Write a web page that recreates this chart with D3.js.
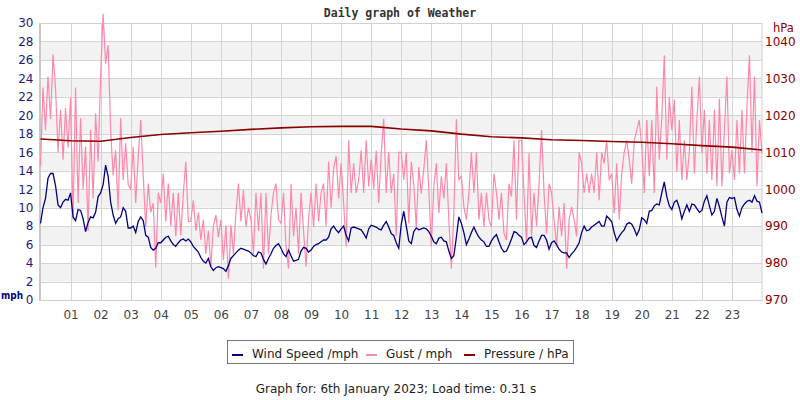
<!DOCTYPE html>
<html>
<head>
<meta charset="utf-8">
<script src="https://cdn.jsdelivr.net/npm/d3@7"></script>
<style>
  body { margin: 0; background: #fff; }
  svg { display: block; font-family: "DejaVu Sans", sans-serif; }
</style>
</head>
<body>
<script>
// Canvas and plot area
const outerWidth = 800, outerHeight = 400;
const plotLeft = 40.5, plotRight = 762, plotTop = 23, plotBottom = 300;

// Wind speed (mph), one reading every 5 minutes from 00:00 to 24:00
const windSpeed = [
  8.3, 10.0, 11.0, 13.2, 13.7, 13.7, 12.4, 10.3, 10.0, 10.6, 10.9, 10.8,
  11.6, 9.0, 8.6, 9.8, 9.7, 8.8, 7.4, 8.4, 9.0, 8.9, 9.5, 11.2,
  11.6, 12.5, 14.6, 13.4, 10.6, 9.2, 8.3, 8.8, 9.0, 10.0, 9.6, 7.8,
  7.8, 8.0, 7.3, 8.5, 9.0, 8.6, 7.0, 6.8, 5.7, 5.4, 5.6, 6.2,
  6.2, 6.5, 6.8, 6.9, 6.4, 6.0, 5.8, 6.2, 6.5, 6.6, 6.4, 6.6,
  6.3, 5.8, 5.5, 5.2, 4.6, 4.2, 4.0, 4.5, 3.6, 3.2, 3.5, 3.6,
  3.5, 3.4, 3.1, 3.7, 4.5, 4.8, 5.1, 5.4, 5.6, 5.5, 5.4, 5.3,
  5.1, 4.8, 4.7, 5.2, 5.1, 4.4, 3.9, 4.5, 5.0, 5.6, 5.9, 6.1,
  5.6, 5.0, 4.7, 5.4, 4.8, 4.2, 4.3, 4.4, 5.3, 5.7, 5.6, 5.2,
  5.4, 5.8, 6.0, 6.1, 6.3, 6.5, 6.5, 6.8, 7.7, 8.0, 7.6, 7.3,
  7.7, 8.0, 7.0, 6.4, 7.8, 7.9, 7.8, 7.7, 7.6, 7.2, 6.7, 7.7,
  8.1, 8.0, 7.9, 7.7, 7.6, 8.1, 8.5, 7.9, 7.2, 7.0, 6.2, 5.6,
  8.2, 9.6, 8.0, 6.4, 6.1, 7.4, 7.8, 7.6, 7.7, 7.8, 7.7, 7.4,
  6.9, 6.3, 6.1, 6.7, 6.8, 6.4, 6.3, 5.3, 4.5, 4.8, 6.8, 9.0,
  8.3, 7.3, 6.0, 6.6, 7.3, 7.9, 7.3, 6.8, 6.5, 6.3, 5.8, 5.8,
  6.4, 6.8, 7.1, 6.3, 5.6, 5.2, 5.3, 5.9, 6.6, 7.4, 7.3, 7.0,
  6.8, 6.0, 6.3, 6.7, 6.8, 5.9, 5.7, 6.4, 7.0, 7.0, 6.5, 5.5,
  6.2, 6.4, 6.0, 5.5, 5.2, 5.1, 5.1, 4.6, 5.0, 5.3, 5.7, 6.2,
  7.3, 8.0, 7.5, 7.6, 7.9, 8.1, 8.3, 8.5, 8.0, 8.0, 9.1, 8.8,
  8.5, 7.3, 6.4, 6.9, 7.3, 7.6, 8.2, 8.4, 8.2, 7.7, 7.0, 7.6,
  8.9, 8.7, 8.3, 9.6, 9.7, 10.2, 10.4, 10.3, 11.6, 12.8, 11.2, 10.2,
  9.8, 10.6, 10.8, 10.0, 8.8, 9.6, 10.3, 9.6, 10.4, 10.3, 9.9, 9.5,
  9.7, 10.7, 11.3, 10.2, 9.2, 9.6, 11.0, 10.1, 9.0, 8.0, 10.6, 11.1,
  11.0, 11.1, 9.8, 9.1, 10.0, 10.4, 10.7, 10.8, 10.6, 11.3, 10.7, 10.6,
  9.4
];

// Gust (mph), one reading every 5 minutes
const gust = [
  14.5, 23.0, 18.4, 24.2, 19.6, 26.6, 23.0, 16.0, 20.6, 15.2, 20.8, 16.5,
  21.9, 8.7, 23.0, 10.5, 19.7, 12.0, 16.6, 7.5, 18.4, 11.0, 20.2, 15.0,
  24.2, 31.0, 25.6, 27.6, 18.4, 13.5, 16.2, 9.7, 19.7, 13.0, 17.0, 12.5,
  12.0, 16.6, 10.5, 15.5, 19.5, 13.5, 7.9, 12.6, 9.5, 10.5, 3.5, 11.6,
  10.5, 13.7, 8.5, 12.6, 8.0, 11.6, 6.9, 11.6, 7.0, 11.5, 15.0, 8.5,
  8.5, 10.8, 7.5, 9.5, 6.5, 8.7, 5.0, 7.5, 3.6, 8.0, 9.2, 6.8,
  8.7, 4.3, 8.1, 2.3, 8.1, 5.0, 9.4, 12.6, 8.5, 11.9, 7.9, 10.0,
  8.7, 5.0, 11.6, 7.5, 11.6, 3.4, 11.6, 5.0, 9.2, 11.6, 12.6, 8.7,
  8.3, 11.6, 5.8, 3.4, 12.6, 6.9, 10.0, 5.0, 11.6, 7.5, 3.6, 8.8,
  11.6, 7.9, 12.6, 8.5, 11.6, 12.6, 8.0, 15.0, 10.0, 14.2, 15.6, 11.0,
  14.8, 10.5, 5.8, 17.3, 11.6, 14.8, 11.6, 13.0, 16.2, 11.6, 17.3, 12.3,
  15.2, 12.0, 16.2, 10.5, 15.9, 19.6, 11.6, 16.0, 11.6, 13.7, 6.9, 16.0,
  16.0, 13.0, 16.0, 8.3, 15.0, 12.5, 7.9, 14.4, 11.5, 14.2, 17.3, 12.0,
  5.8, 12.3, 14.8, 9.4, 13.4, 11.0, 14.8, 8.7, 3.4, 9.4, 19.6, 13.0,
  13.4, 10.1, 8.7, 11.6, 16.0, 11.6, 16.0, 8.7, 11.6, 7.9, 11.6, 8.7,
  7.9, 13.7, 11.6, 8.7, 11.6, 7.2, 6.5, 12.6, 11.2, 17.3, 8.7, 17.3,
  17.3, 11.6, 6.0, 15.9, 7.0, 11.6, 8.0, 12.6, 18.4, 11.6, 7.2, 12.6,
  11.6, 8.7, 5.8, 10.1, 6.9, 10.5, 3.4, 8.7, 10.1, 8.7, 6.9, 16.0,
  14.8, 11.6, 13.7, 11.6, 13.7, 11.6, 16.0, 10.8, 16.0, 14.8, 17.3, 13.0,
  13.7, 9.4, 14.8, 8.7, 13.7, 16.0, 17.3, 15.2, 12.6, 17.3, 18.4, 19.5,
  16.6, 11.6, 19.5, 13.4, 19.5, 11.6, 23.1, 15.2, 19.7, 26.5, 15.2, 22.0,
  18.4, 21.7, 13.9, 19.5, 13.0, 17.3, 13.0, 16.0, 23.1, 13.7, 19.5, 24.2,
  15.9, 20.6, 13.7, 19.5, 13.0, 20.6, 12.3, 21.8, 12.3, 18.4, 24.2, 13.7,
  16.2, 13.0, 19.5, 13.7, 20.6, 13.7, 21.0, 26.5, 16.0, 24.2, 12.3, 19.5,
  15.9
];

// Pressure (hPa), hourly
const pressure = [
  1013.6, 1013.1, 1013.0, 1014.0, 1014.8, 1015.3, 1015.7, 1016.2, 1016.6,
  1016.9, 1017.0, 1017.0, 1016.3, 1015.8, 1014.9, 1014.2, 1013.9, 1013.4,
  1013.2, 1012.9, 1012.7, 1012.3, 1011.8, 1011.4, 1010.6
];

const hourLabels = d3.range(1, 24).map(h => String(h).padStart(2, "0"));
const mphTicks = d3.range(0, 31, 2);
const hpaTicks = d3.range(970, 1041, 10);

const series = [
  { name: "Wind Speed /mph", colour: "#000080" },
  { name: "Gust / mph", colour: "#ff88aa" },
  { name: "Pressure / hPa", colour: "#8b0000" }
];

const svg = d3.select("body").append("svg")
  .attr("width", outerWidth)
  .attr("height", outerHeight);

// Scales
const x = d3.scaleLinear().domain([0, 24]).range([plotLeft, plotRight]);
const y = d3.scaleLinear().domain([0, 30]).range([plotBottom, plotTop]);
const yP = d3.scaleLinear().domain([970, 1045]).range([plotBottom, plotTop]);

// Alternating bands
svg.append("g").selectAll("rect")
  .data(d3.range(2, 30, 4))
  .enter().append("rect")
  .attr("x", plotLeft)
  .attr("width", plotRight - plotLeft)
  .attr("y", d => y(d + 2))
  .attr("height", d => y(d) - y(d + 2))
  .attr("fill", "#f2f2f2");

// Grid
svg.append("g").selectAll("line")
  .data(mphTicks)
  .enter().append("line")
  .attr("x1", plotLeft).attr("x2", plotRight)
  .attr("y1", d => Math.round(y(d)) + 0.5)
  .attr("y2", d => Math.round(y(d)) + 0.5)
  .attr("stroke", "#d4d4d4");
svg.append("g").selectAll("line")
  .data(d3.range(1, 24))
  .enter().append("line")
  .attr("x1", d => Math.round(x(d)) + 0.5)
  .attr("x2", d => Math.round(x(d)) + 0.5)
  .attr("y1", plotTop).attr("y2", plotBottom)
  .attr("stroke", "#d4d4d4");

// Frame
svg.append("rect")
  .attr("x", plotLeft).attr("y", plotTop + 0.5)
  .attr("width", plotRight - plotLeft).attr("height", plotBottom - plotTop)
  .attr("fill", "none").attr("stroke", "#d0d0d0");
svg.append("line")
  .attr("x1", plotLeft - 0.5).attr("x2", plotLeft - 0.5)
  .attr("y1", plotTop).attr("y2", plotBottom + 1)
  .attr("stroke", "#c8c8c8").attr("stroke-width", 2);

// Lines
const lineOf = (step, yScale) => d3.line()
  .x((d, i) => x(i * step))
  .y(d => yScale(d));

svg.append("path")
  .datum(gust)
  .attr("fill", "none")
  .attr("stroke", series[1].colour)
  .attr("stroke-width", 1.2)
  .attr("d", lineOf(1 / 12, y));

svg.append("path")
  .datum(pressure)
  .attr("fill", "none")
  .attr("stroke", series[2].colour)
  .attr("stroke-width", 1.6)
  .attr("d", lineOf(1, yP));

svg.append("path")
  .datum(windSpeed)
  .attr("fill", "none")
  .attr("stroke", series[0].colour)
  .attr("stroke-width", 1.3)
  .attr("d", lineOf(1 / 12, y));

// Axes
const leftAxis = svg.append("g")
  .attr("transform", `translate(${plotLeft - 7}, 0)`)
  .call(d3.axisLeft(y).tickValues(mphTicks).tickSize(0).tickPadding(0));
leftAxis.select(".domain").remove();
leftAxis.selectAll("text")
  .attr("fill", "#1a1a80")
  .style("font-size", "12px")
  .style("font-family", "DejaVu Sans");

const rightAxis = svg.append("g")
  .attr("transform", `translate(${plotRight + 3}, 0)`)
  .call(d3.axisRight(yP).tickValues(hpaTicks).tickSize(0).tickPadding(0)
    .tickFormat(d3.format("d")));
rightAxis.select(".domain").remove();
rightAxis.selectAll("text")
  .attr("fill", "#8b0000")
  .style("font-size", "12px")
  .style("font-family", "DejaVu Sans");

const bottomAxis = svg.append("g")
  .attr("transform", `translate(0, ${plotBottom + 10})`)
  .call(d3.axisBottom(x).tickValues(d3.range(1, 24)).tickSize(0).tickPadding(0)
    .tickFormat((d, i) => hourLabels[i]));
bottomAxis.select(".domain").remove();
bottomAxis.selectAll("text")
  .attr("fill", "#444")
  .style("font-size", "12px")
  .style("font-family", "DejaVu Sans");

// Axis units
svg.append("text")
  .attr("x", 1).attr("y", 299)
  .attr("fill", "#000080")
  .attr("textLength", 22)
  .attr("lengthAdjust", "spacingAndGlyphs")
  .style("font-size", "10px")
  .style("font-weight", "bold")
  .text("mph");
svg.append("text")
  .attr("x", 773).attr("y", 32)
  .attr("fill", "#8b0000")
  .style("font-size", "11.5px")
  .text("hPa");

// Title
svg.append("text")
  .attr("x", 400).attr("y", 17)
  .attr("text-anchor", "middle")
  .attr("fill", "#333")
  .style("font-family", "DejaVu Sans Mono")
  .style("font-size", "11.5px")
  .style("font-weight", "bold")
  .text("Daily graph of Weather");

// Legend
const legend = svg.append("g");
legend.append("rect")
  .attr("x", 227.5).attr("y", 340.5)
  .attr("width", 346).attr("height", 23)
  .attr("fill", "#fff").attr("stroke", "#777");
const legendX = [232, 366, 464];
series.forEach((s, i) => {
  legend.append("rect")
    .attr("x", legendX[i]).attr("y", 354)
    .attr("width", 11).attr("height", 2)
    .attr("fill", s.colour);
  legend.append("text")
    .attr("x", legendX[i] + 20).attr("y", 358)
    .attr("fill", "#222")
    .style("font-size", "12px")
    .text(s.name);
});

// Footer
svg.append("text")
  .attr("x", 396).attr("y", 393)
  .attr("text-anchor", "middle")
  .attr("fill", "#222")
  .style("font-size", "12px")
  .text("Graph for: 6th January 2023; Load time: 0.31 s");
</script>
</body>
</html>
